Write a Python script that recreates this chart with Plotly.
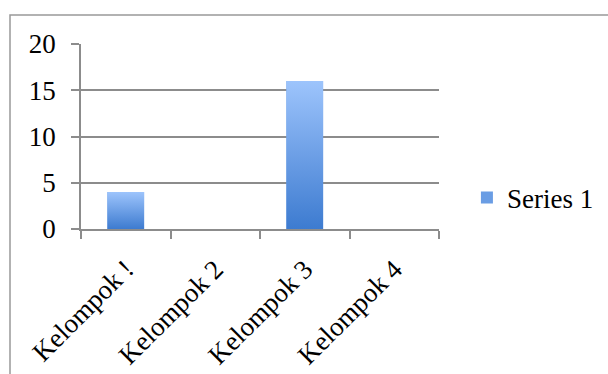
import plotly.graph_objects as go

categories = ["Kelompok !", "Kelompok 2", "Kelompok 3", "Kelompok 4"]
series_1 = [4, 0, 16, 0]
y_ticks = [0, 5, 10, 15, 20]
series_name = "Series 1"

FONT = "Liberation Serif"
GRID = "#8c8c8c"
LIGHT = "#9dc4fc"
DARK = "#3d7bd0"
BARGAP = 0.59

fig = go.Figure()
# base bars (categorical axis, provides legend entry)
fig.add_trace(go.Bar(
    x=categories, y=series_1, name=series_name,
    marker=dict(color="#6a9de4", line=dict(width=0)),
    showlegend=True, hoverinfo="skip",
))

# gradient overlay for each bar, computed from the same data on a numeric twin axis
half = (1 - BARGAP) / 2
for i, v in enumerate(series_1):
    if v <= 0:
        continue
    fig.add_trace(go.Scatter(
        x=[i - half, i - half, i + half, i + half, i - half],
        y=[0, v, v, 0, 0],
        xaxis="x2", mode="lines", line=dict(width=0),
        fill="toself",
        fillgradient=dict(type="vertical", start=v, stop=0,
                          colorscale=[[0, LIGHT], [1, DARK]]),
        showlegend=False, hoverinfo="skip",
    ))

fig.update_layout(
    width=608, height=374,
    margin=dict(l=81, r=169, t=44, b=145, autoexpand=False),
    paper_bgcolor="white", plot_bgcolor="white",
    font=dict(family=FONT, size=27, color="black"),
    bargap=BARGAP,
    showlegend=True,
    legend=dict(x=1.078, y=0.168, xanchor="left", yanchor="middle",
                font=dict(family=FONT, size=27), itemwidth=30,
                bgcolor="rgba(0,0,0,0)"),
    xaxis=dict(
        type="category", tickson="boundaries", ticks="outside", ticklen=8,
        tickcolor=GRID, tickwidth=1.5, tickangle=-45,
        showgrid=False, showline=True, linecolor=GRID, linewidth=1.5,
        ticklabelstandoff=12, automargin=False,
    ),
    xaxis2=dict(overlaying="x", range=[-0.5, len(categories) - 0.5],
                visible=False, showgrid=False, zeroline=False),
    yaxis=dict(
        range=[0, 20], tickvals=y_ticks, ticks="outside", ticklen=8,
        tickcolor=GRID, tickwidth=1.5,
        showgrid=True, gridcolor=GRID, gridwidth=1.5,
        showline=True, linecolor=GRID, linewidth=1.5,
        zeroline=False, ticklabelstandoff=10, automargin=False,
    ),
    shapes=[dict(type="rect", xref="paper", yref="paper",
                 x0=-71/358, x1=700/358, y0=1 + 29/185, y1=-1.0,
                 line=dict(color="#999999", width=1.5), fillcolor="rgba(0,0,0,0)",
                 layer="below")],
)

fig.write_html("out.html")
